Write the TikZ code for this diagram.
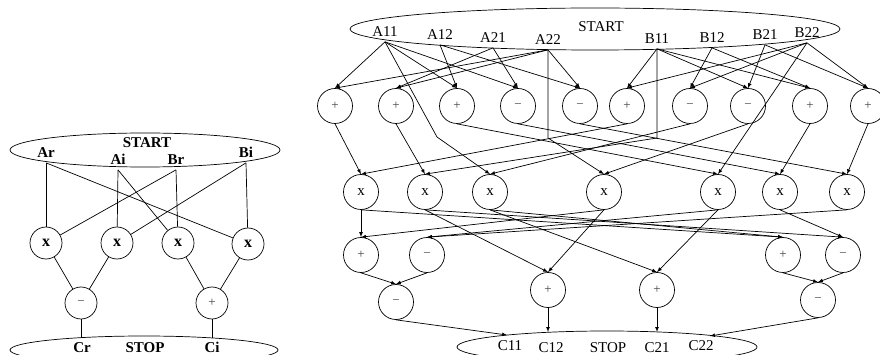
\documentclass[tikz,border=0pt]{standalone}
\usepackage{fontspec}
\setmainfont{Liberation Serif}
\usetikzlibrary{shapes.geometric}

\begin{document}
\fontsize{15}{18}\selectfont
\begin{tikzpicture}[x=1pt, y=-1pt, line width=0.7pt,
    op/.style={draw, circle, minimum size=35pt, inner sep=0pt, font=\fontsize{13}{13}\selectfont, text=black!75},
    mul/.style={draw, circle, minimum size=35pt, inner sep=0pt},
    lop/.style={op, minimum size=32pt},
    lmul/.style={mul, minimum size=32pt, font=\fontsize{16}{16}\selectfont\bfseries},
    lbl/.style={inner sep=2pt, text height=10pt, text depth=3pt},
    blbl/.style={lbl, font=\fontsize{15}{18}\selectfont\bfseries},
    term/.style={draw, ellipse, inner sep=0pt}]
  \useasboundingbox (0,0) rectangle (880,355);

  % complex product
  \node[term, minimum width=270pt, minimum height=34pt] (startL) at (145,150) {};
  \node[blbl] (stL) at (147,144) {START};
  \node[blbl] (Ar) at (46,154) {Ar};
  \node[blbl] (Ai) at (118,161) {Ai};
  \node[blbl] (Br) at (176,161) {Br};
  \node[blbl] (Bi) at (246,154) {Bi};

  \node[lmul] (L1) at (46,243) {x};
  \node[lmul] (L2) at (117,243) {x};
  \node[lmul] (L3) at (178,243) {x};
  \node[lmul] (L4) at (248,244) {x};
  \node[lop] (Ld) at (81,303) {−};
  \node[lop] (Ls) at (212,303) {+};

  \node[term, minimum width=268pt, minimum height=28pt] (stopL) at (144,350) {};
  \node[blbl] (Cr) at (82,349) {Cr};
  \node[blbl] (spL) at (145,349) {STOP};
  \node[blbl] (Ci) at (212,349) {Ci};
  \coordinate (CrP) at (81,338);
  \coordinate (CiP) at (212,338);

  \path (Ar.south) edge (L1) edge (L4);
  \path (Ai.south) edge (L2) edge (L3);
  \path (Br.south) edge (L3) edge (L1);
  \path (Bi.south) edge (L4) edge (L2);
  \path (L1) edge (Ld) (L2) edge (Ld);
  \path (L3) edge (Ls) (L4) edge (Ls);
  \path (Ld) edge (CrP) (Ls) edge (CiP);

  % matrix product
  \node[term, minimum width=490pt, minimum height=42pt] (startR) at (595,29) {};
  \node[lbl] (stR) at (601,28) {START};
  \node[lbl] (A11) at (385,33) {A11};
  \node[lbl] (A12) at (440,36) {A12};
  \node[lbl] (A21) at (493,39) {A21};
  \node[lbl] (A22) at (548,41) {A22};
  \node[lbl] (B11) at (657,40) {B11};
  \node[lbl] (B12) at (712,39) {B12};
  \node[lbl] (B21) at (765,36) {B21};
  \node[lbl] (B22) at (807,34) {B22};

  \node[op] (s1) at (335,106) {+};
  \node[op] (s2) at (396,106) {+};
  \node[op] (s3) at (457,106) {+};
  \node[op] (s4) at (518,106) {−};
  \node[op] (s5) at (580,106) {−};
  \node[op] (s6) at (627,106) {+};
  \node[op] (s7) at (690,106) {−};
  \node[op] (s8) at (748,106) {−};
  \node[op] (s9) at (810,106) {+};
  \node[op] (s10) at (868,106) {+};

  \coordinate (v1) at (437,137);
  \coordinate (v2) at (548,138);
  \coordinate (v3) at (657,138);

  \node[mul] (m1) at (361,192) {x};
  \node[mul] (m2) at (425,192) {x};
  \node[mul] (m3) at (490,192) {x};
  \node[mul] (m4) at (604,192) {x};
  \node[mul] (m5) at (718,192) {x};
  \node[mul] (m6) at (780,192) {x};
  \node[mul] (m7) at (847,192) {x};

  \node[op] (t1) at (361,255) {+};
  \node[op] (t2) at (427,255) {−};
  \node[op] (t3) at (783,255) {+};
  \node[op] (t4) at (843,255) {−};
  \node[op] (c1) at (396,302) {−};
  \node[op] (c2) at (548,290) {+};
  \node[op] (c3) at (657,290) {+};
  \node[op] (c4) at (818,300) {−};

  \node[term, minimum width=300pt, minimum height=32pt] (stopR) at (607,347) {};
  \node[lbl] (C11) at (510,347) {C11};
  \node[lbl] (C12) at (551,349) {C12};
  \node[lbl] (spR) at (608,349) {STOP};
  \node[lbl] (C21) at (657,349) {C21};
  \node[lbl] (C22) at (701,347) {C22};
  \coordinate (q1) at (507,335);
  \coordinate (q2) at (548,332);
  \coordinate (q3) at (657,332);
  \coordinate (q4) at (710,336);

  \path[-latex] (A11.south) edge (s1.north) edge (s3.north) edge (s4.north);
  \path[-latex] (A12.south) edge (s3.north) edge (s5.north);
  \path[-latex] (A21.south) edge (s2.north) edge (s4.north);
  \path[-latex] (A22.south) edge (s1.north) edge (s2.north) edge (s5.north);
  \path[-latex] (B11.south) edge (s6.north) edge (s8.north) edge (s9.north);
  \path[-latex] (B12.south) edge (s7.north) edge (s9.north);
  \path[-latex] (B21.south) edge (s8.north) edge (s10.north);
  \path[-latex] (B22.south) edge (s6.north) edge (s7.north) edge (s10.north) edge (m5.north);
  \draw[-latex] (A11.south) -- (v1) -- (m3.north);
  \draw[-latex] (A22.south) -- (v2) -- (m4.north);
  \draw[-latex] (B11.south) -- (v3) -- (m2.north);

  \path[-latex] (s1.south) edge (m1.north) (s6.south) edge (m1.north);
  \path[-latex] (s2.south) edge (m2.north);
  \path[-latex] (s7.south) edge (m3.north);
  \path[-latex] (s8.south) edge (m4.north);
  \path[-latex] (s3.south) edge (m5.north);
  \path[-latex] (s4.south) edge (m6.north) (s9.south) edge (m6.north);
  \path[-latex] (s5.south) edge (m7.north) (s10.south) edge (m7.north);

  \path[-latex] (m1.south) edge (t1.north) edge (t3.north);
  \path[-latex] (m2.south) edge (c2.north) edge (t4.north);
  \path[-latex] (m3.south) edge (c3.north) edge (t3.north);
  \path[-latex] (m4.south) edge (t1.north) edge (c2.north);
  \path[-latex] (m5.south) edge (t2.north) edge (c3.north);
  \path[-latex] (m6.south) edge (t4.north);
  \path[-latex] (m7.south) edge (t2.north);

  \path[-latex] (t1.south) edge (c1.north) (t2.south) edge (c1.north);
  \path[-latex] (t3.south) edge (c4.north) (t4.south) edge (c4.north);
  \path[-latex] (c1.south) edge (q1) (c2.south) edge (q2);
  \path[-latex] (c3.south) edge (q3) (c4.south) edge (q4);
\end{tikzpicture}
\end{document}
